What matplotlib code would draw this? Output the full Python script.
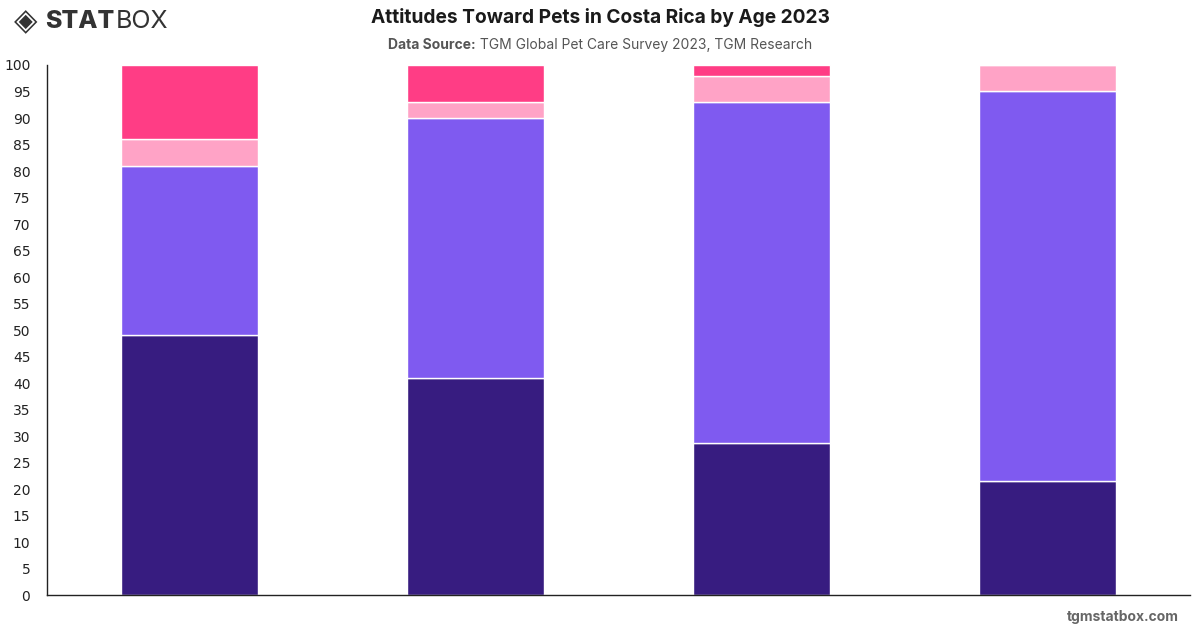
import matplotlib.pyplot as plt

# age groups (no labels shown on the chart)
groups = ["A", "B", "C", "D"]

# stacked shares, bottom to top
very_positive = [49, 41, 28.7, 21.5]
positive = [32, 49, 64.3, 73.5]
neutral = [5, 3, 5, 5]
negative = [14, 7, 2, 0]

series = [very_positive, positive, neutral, negative]
colors = ["#371c80", "#7f5af0", "#ffa3c6", "#ff3d85"]
yticks = list(range(0, 101, 5))

fig = plt.figure(figsize=(12, 6.28), dpi=100)
ax = fig.add_axes([0.0392, 0.0525, 0.9525, 0.844])

# draw the stacked bars
bottom = [0] * len(groups)
x = range(len(groups))
for values, color in zip(series, colors):
    ax.bar(x, values, bottom=bottom, width=0.48, color=color,
           edgecolor="white", linewidth=1.0)
    bottom = [b + v for b, v in zip(bottom, values)]

ax.set_xlim(-0.5, 3.5)
ax.set_ylim(0, 100)
ax.set_yticks(yticks)
ax.set_xticks([])
ax.tick_params(axis="y", length=0, labelsize=10, colors="#222222", pad=12)
for side in ["top", "right"]:
    ax.spines[side].set_visible(False)
for side in ["left", "bottom"]:
    ax.spines[side].set_color("#222222")
    ax.spines[side].set_linewidth(1.0)

# header texts
fig.text(0.5, 0.972, "Attitudes Toward Pets in Costa Rica by Age 2023",
         ha="center", va="center", fontsize=13.8, fontweight="bold",
         color="#1a1a1a", family="Inter")

# subtitle: bold label + regular source, centred together
renderer = fig.canvas.get_renderer()
t1 = fig.text(0, 0.929, "Data Source:", ha="left", va="center", fontsize=10,
              fontweight="bold", color="#555555", family="Inter")
t2 = fig.text(0, 0.929, " TGM Global Pet Care Survey 2023, TGM Research",
              ha="left", va="center", fontsize=10, color="#555555", family="Inter")
w1 = t1.get_window_extent(renderer).width / fig.bbox.width
w2 = t2.get_window_extent(renderer).width / fig.bbox.width
start = 0.5 - (w1 + w2) / 2
t1.set_x(start)
t2.set_x(start + w1)

# logo
fig.text(0.012, 0.965, "◈", ha="left", va="center", fontsize=22,
         fontweight="bold", color="#333333")
fig.text(0.038, 0.965, "STAT", ha="left", va="center", fontsize=18,
         fontweight="heavy", color="#333333", family="Inter")
fig.text(0.0965, 0.965, "BOX", ha="left", va="center", fontsize=18,
         color="#333333", family="Inter")

fig.text(0.982, 0.018, "tgmstatbox.com", ha="right", va="center",
         fontsize=10, fontweight="bold", color="#666666", family="Inter")

fig.savefig("out.png", dpi=100)
